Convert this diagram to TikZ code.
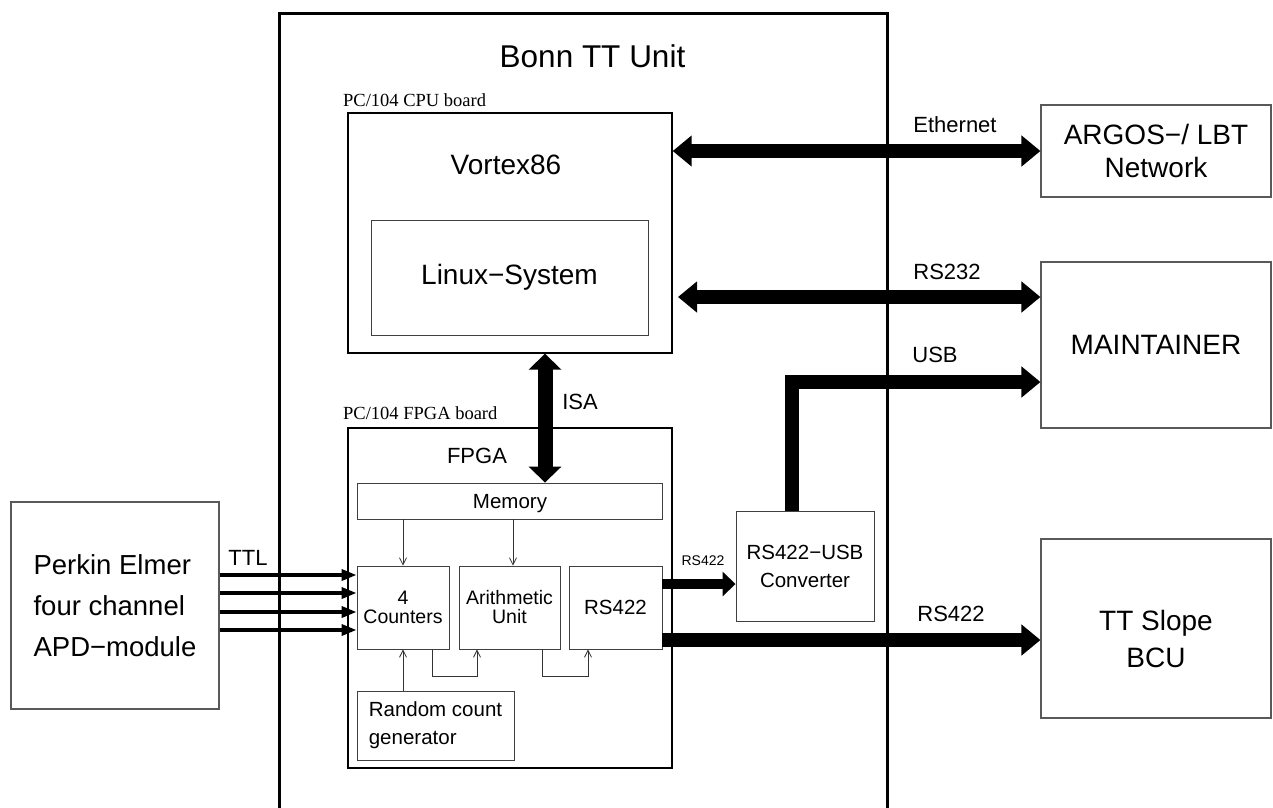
\documentclass[tikz,border=0pt]{standalone}
\usepackage{fontspec}
\setmainfont{Liberation Sans}
\newfontfamily\serifface{Liberation Serif}
\usetikzlibrary{arrows.meta}
\newcommand{\fs}[2]{\fontsize{#1}{#2}\selectfont}
\tikzset{
  board/.style={draw=black, line width=1.4pt, inner sep=0pt},
  thinbox/.style={draw=black!75, line width=0.9pt, inner sep=0pt, align=center},
  extbox/.style={draw=black!65, line width=1.1pt, inner sep=0pt, align=center},
  fat/.style={line width=14pt, -{Triangle[length=19pt,width=30pt]}},
  fatboth/.style={line width=14pt, {Triangle[length=19pt,width=30pt]}-{Triangle[length=19pt,width=30pt]}},
  medarrow/.style={line width=10pt, -{Triangle[length=13pt,width=24pt]}},
  ttlarrow/.style={line width=3.5pt, -{Triangle[length=15pt,width=11pt]}},
  sig/.style={draw=black!80, line width=0.8pt, -{Straight Barb[length=7pt,width=7pt]}},
  lab/.style={inner sep=0pt, font=\fs{22}{26}},
}
\begin{document}
\begin{tikzpicture}[x=1pt,y=-1pt]
\useasboundingbox (0,0) rectangle (1273,807);
% Bonn TT Unit frame
\draw[line width=3pt] (279,808) -- (279,13.5) -- (887,13.5) -- (887,808);
\node[inner sep=0pt, font=\fs{31.5}{36}] (title) at (592.5,56) {Bonn TT Unit};

% CPU board
\node[board, minimum width=324pt, minimum height=240pt] (cpu) at (510,233) {};
\node[anchor=base west, inner sep=0pt, font=\serifface\fs{18.5}{22}] (cpulab) at (343,106) {PC/104 CPU board};
\node[inner sep=0pt, font=\fs{28}{32}] (vortex) at (506,165) {Vortex86};
\node[thinbox, minimum width=277pt, minimum height=115pt, font=\fs{28}{32}] (linux) at (509.5,277.5) {Linux−System};

% FPGA board
\node[board, minimum width=324pt, minimum height=340pt] (fpga) at (510,598) {};
\node[anchor=base west, inner sep=0pt, font=\serifface\fs{18.5}{22}] (fpgalab) at (343,419) {PC/104 FPGA board};
\node[lab] (fpgatxt) at (477,456) {FPGA};
\node[thinbox, minimum width=305pt, minimum height=36pt] (mem) at (509.5,501) {};
\node[inner sep=0pt, font=\fs{20.5}{24}] (memtxt) at (510,504) {Memory};
\node[thinbox, minimum width=92pt, minimum height=83pt, font=\fs{19.5}{19}] (cnt) at (403,607.5) {4\\Counters};
\node[thinbox, minimum width=101pt, minimum height=83pt, font=\fs{19.5}{19}] (alu) at (509.5,607.5) {Arithmetic\\Unit};
\node[thinbox, minimum width=93pt, minimum height=83pt, font=\fs{20.5}{24}] (rs) at (615.5,607.5) {RS422};
\node[thinbox, align=left, minimum width=157pt, minimum height=69pt, font=\fs{20.5}{28}] (rnd) at (435.5,725.5) {Random count\\generator};

% external boxes
\node[extbox, align=left, minimum width=208pt, minimum height=207pt, font=\fs{27.5}{41}] (apd) at (115,605.5) {Perkin Elmer\\four channel\\APD−module};
\node[thinbox, minimum width=138pt, minimum height=110pt, font=\fs{20.5}{28}] (conv) at (805,566) {RS422−USB\\Converter};
\node[extbox, minimum width=230pt, minimum height=92pt, font=\fs{28}{33}] (argos) at (1156,151) {ARGOS−/ LBT\\Network};
\node[extbox, minimum width=230pt, minimum height=166pt, font=\fs{28}{32}] (maint) at (1156,345) {MAINTAINER};
\node[extbox, minimum width=230pt, minimum height=179pt] (bcu) at (1156,628.5) {};
\node[inner sep=0pt, align=center, font=\fs{28}{37}] (bcutxt) at (1156,638.5) {TT Slope\\BCU};

% internal FPGA signals
\draw[sig] (mem.south -| cnt.north) -- (cnt.north);
\draw[sig] ([xshift=3.5pt]mem.south -| alu.north) -- ([xshift=3.5pt]alu.north);
\draw[sig] (rnd.north -| cnt.south) -- (cnt.south);
\draw[sig] ([xshift=29pt]cnt.south) -- ++(0,27) -| ([xshift=-32.5pt]alu.south);
\draw[sig] ([xshift=32.5pt]alu.south) -- ++(0,27) -| ([xshift=-27.5pt]rs.south);

% TTL inputs
\foreach \yy in {575,593,612,630} {
  \draw[ttlarrow] (apd.east |- 0,\yy) -- (cnt.west |- 0,\yy);
}
\node[lab] (ttl) at (248,558) {TTL};

% Ethernet
\draw[fatboth] (cpu.east |- argos.west) -- (argos.west);
\node[lab] (eth) at (955,125) {Ethernet};

% RS232
\coordinate (rs232l) at (678,297);
\draw[fatboth] (rs232l) -- (rs232l -| maint.west);
\node[lab] (rs232) at (947,272) {RS232};

% ISA
\draw[line width=15pt, {Triangle[length=16pt,width=32pt]}-{Triangle[length=16pt,width=32pt]}] ([xshift=35pt]cpu.south) -- ([xshift=35.5pt]mem.north);
\node[lab] (isa) at (580,402) {ISA};

% USB
\draw[line width=14pt, -{Triangle[length=19pt,width=30pt]}] ([xshift=-13pt]conv.north) |- ([yshift=-37pt]maint.west);
\node[lab] (usb) at (935,355) {USB};

% RS422 to converter
\draw[medarrow] ([yshift=23.5pt]rs.east) -- ([yshift=23.5pt]rs.east -| conv.west);
\node[inner sep=0pt, font=\fs{14}{16}] (rssmall) at (703,561) {RS422};

% RS422 to BCU
\draw[fat] ([yshift=-32.5pt]rs.east) -- ([yshift=-32.5pt]rs.east -| bcu.west);
\node[lab] (rsbig) at (951,614) {RS422};
\end{tikzpicture}
\end{document}
